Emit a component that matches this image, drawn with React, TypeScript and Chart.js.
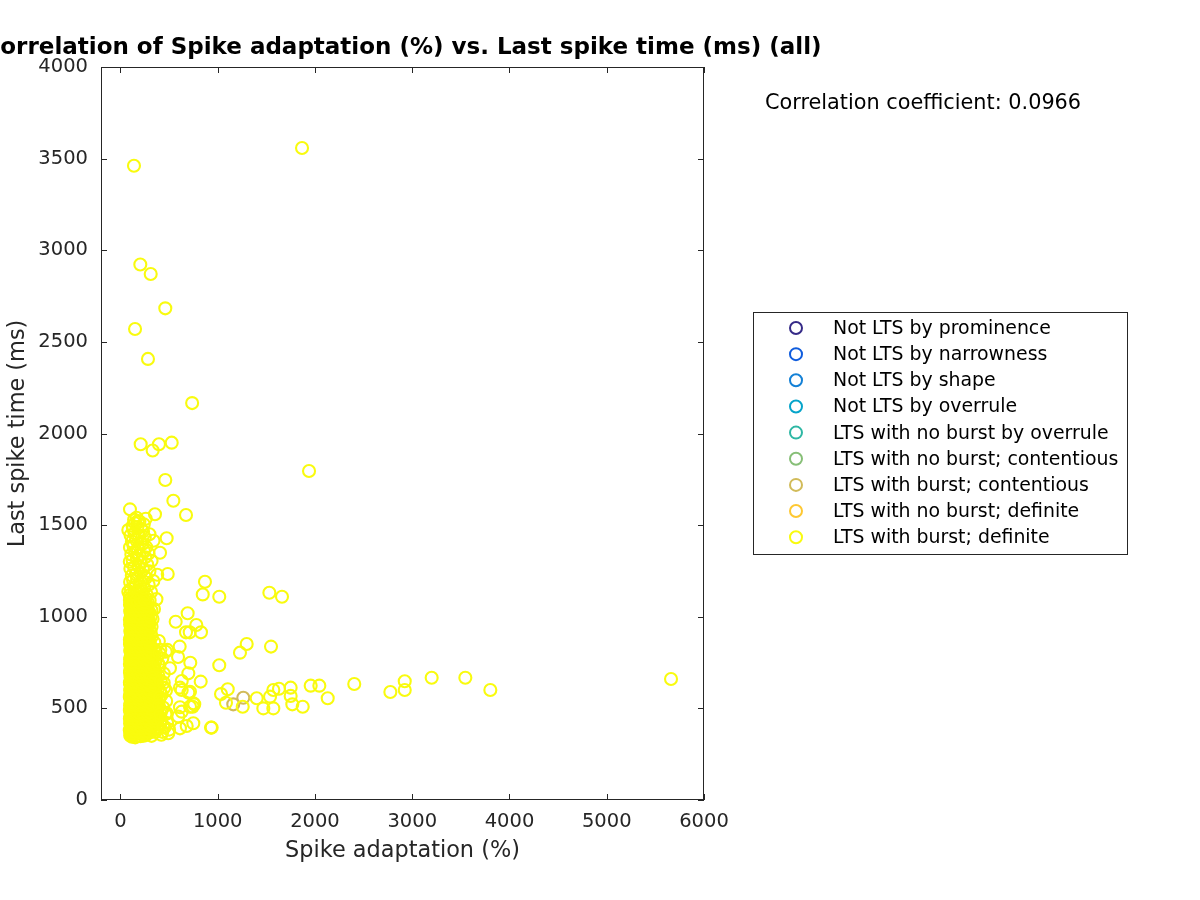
import React, { useEffect, useRef } from "react";
import { Chart, registerables } from "chart.js";

Chart.register(...registerables);

// ---------- Data ----------
const titleText = "Correlation of Spike adaptation (%) vs. Last spike time (ms) (all)";
const xLabel = "Spike adaptation (%)";
const yLabel = "Last spike time (ms)";
const corrText = "Correlation coefficient: 0.0966";

const xTicks = [0, 1000, 2000, 3000, 4000, 5000, 6000];
const yTicks = [0, 500, 1000, 1500, 2000, 2500, 3000, 3500, 4000];
const xMin = -200;
const xMax = 6000;
const yMin = 0;
const yMax = 4000;

const groupLabels = [
  "Not LTS by prominence",
  "Not LTS by narrowness",
  "Not LTS by shape",
  "Not LTS by overrule",
  "LTS with no burst by overrule",
  "LTS with no burst; contentious",
  "LTS with burst; contentious",
  "LTS with no burst; definite",
  "LTS with burst; definite",
];

const groupColors = [
  "#352a87",
  "#0f5cdd",
  "#1481d6",
  "#06a4ca",
  "#2eb7a4",
  "#87bf77",
  "#d1bb59",
  "#fec832",
  "#f9fb0e",
];

type Pt = [number, number];

const notLtsByProminence: Pt[] = [];
const notLtsByNarrowness: Pt[] = [];
const notLtsByShape: Pt[] = [];
const notLtsByOverrule: Pt[] = [];
const ltsNoBurstByOverrule: Pt[] = [];
const ltsNoBurstContentious: Pt[] = [];
const ltsBurstContentious: Pt[] = [[1160, 522], [1263, 558]];
const ltsNoBurstDefinite: Pt[] = [];

const ltsBurstDefiniteCore: Pt[] = [
  [118,345],[152,342],[205,348],[240,351],
  [105,363],[138,360],[176,366],[221,358],[268,362],[305,369],
  [96,381],[129,377],[163,384],[199,379],[236,386],[282,378],[340,383],
  [110,398],[147,402],[185,395],[218,401],[259,397],[297,404],[372,396],
  [99,418],[134,413],[171,420],[207,414],[245,419],[286,412],[326,421],[410,415],
  [115,436],[152,430],[190,438],[228,433],[266,437],[312,431],[355,439],
  [101,454],[140,449],[178,455],[214,451],[252,456],[293,448],[338,453],[395,457],
  [108,471],[123,466],[161,473],[197,468],[236,474],[275,467],[318,472],[362,469],
  [97,490],[136,485],[172,491],[209,486],[248,492],[289,484],[331,489],[420,487],
  [113,507],[149,503],[186,509],[224,504],[262,510],[305,502],[348,508],
  [102,526],[131,521],[167,527],[203,522],[241,528],[280,520],[322,525],[386,523],
  [110,543],[145,539],[182,545],[219,540],[257,546],[298,538],[341,544],
  [96,562],[127,557],[163,563],[200,558],[236,564],[276,556],[316,561],[372,559],
  [116,580],[151,575],[188,581],[226,576],[264,582],[303,574],[350,579],
  [100,598],[135,593],[171,599],[208,594],[246,600],[285,592],[329,597],[408,595],
  [112,615],[147,611],[184,617],[221,612],[259,618],[299,610],
  [98,634],[130,629],[166,635],[203,630],[240,636],[279,628],[323,633],[376,631],
  [114,651],[150,647],[187,653],[225,648],[262,654],[303,646],
  [103,670],[138,665],[175,671],[211,666],[248,672],[288,664],[340,669],
  [118,687],[155,683],[192,689],[230,684],[268,690],[312,682],
  [99,706],[133,701],[169,707],[205,702],[243,708],[284,700],[364,705],
  [111,723],[146,719],[183,725],[219,720],[257,726],[300,718],
  [97,742],[128,737],[164,743],[201,738],[238,744],[276,736],[332,741],
  [115,759],[152,755],[189,761],[226,756],[265,762],[305,754],
  [104,778],[140,773],[177,779],[213,774],[250,780],[290,772],
  [120,795],[157,791],[194,797],[232,792],[271,798],[318,790],
  [100,814],[134,809],[171,815],[207,810],[245,816],[283,808],
  [112,831],[149,827],[186,833],[223,828],[261,834],[302,826],
  [98,850],[131,845],[167,851],[204,846],[241,852],[280,844],
  [117,867],[153,863],[190,869],[228,864],[266,870],
  [103,886],[139,881],[176,887],[212,882],[249,888],[296,880],
  [121,903],[158,899],[195,905],[233,900],[272,906],
  [101,922],[135,917],[172,923],[208,918],[246,924],[310,916],
  [113,939],[150,935],[187,941],[224,936],[262,942],
  [99,958],[132,953],[168,959],[205,954],[243,960],[285,952],
  [118,975],[154,971],[191,977],[229,972],[268,978],
  [104,994],[140,989],[177,995],[214,990],[252,996],[330,988],
  [122,1011],[159,1007],[196,1013],[234,1008],[275,1014],
  [100,1030],[136,1025],[173,1031],[209,1026],[248,1032],[296,1024],
  [114,1047],[151,1043],[188,1049],[226,1044],[264,1050],[345,1042],
  [98,1066],[131,1061],[167,1067],[204,1062],[242,1068],
  [119,1083],[156,1079],[193,1085],[231,1080],[282,1076],
  [105,1102],[142,1097],[179,1103],[216,1098],[258,1104],[370,1096],
];

const ltsBurstDefiniteCore2: Pt[] = [
  [100,352],[135,354],[188,350],[262,355],[320,350],
  [112,371],[150,373],[193,370],[250,372],[290,374],[358,371],
  [102,389],[143,391],[181,388],[219,390],[265,392],[310,388],[388,390],
  [121,407],[160,409],[198,406],[236,408],[278,410],[315,405],[352,409],
  [107,425],[144,427],[182,424],[220,426],[258,428],[298,423],[340,427],[378,425],
  [97,443],[131,445],[170,442],[209,444],[247,446],[286,441],[330,445],[372,443],
  [118,461],[156,463],[192,460],[230,462],[270,464],[306,459],[348,463],[386,461],
  [104,479],[146,481],[185,478],[222,480],[262,482],[302,477],[345,481],[380,479],
  [124,497],[160,499],[198,496],[236,498],[276,500],[314,495],[362,499],
  [99,515],[137,517],[176,514],[214,516],[252,518],[292,513],[334,517],[374,515],
  [120,533],[158,535],[196,532],[232,534],[270,536],[310,531],[356,535],
  [106,551],[142,553],[180,550],[218,552],[256,554],[296,549],[335,553],[392,551],
  [97,569],[134,571],[172,568],[210,570],[250,572],[290,567],[330,571],[368,569],
  [124,587],[162,589],[200,586],[238,588],[276,590],[318,585],[362,589],
  [104,605],[140,607],[178,604],[216,606],[254,608],[292,603],[336,607],[384,605],
  [121,623],[159,625],[196,622],[234,624],[272,626],[314,621],[352,625],
  [97,641],[136,643],[174,640],[212,642],[250,644],[290,639],[334,643],
  [124,659],[161,661],[198,658],[236,660],[276,662],[318,657],[362,661],
  [107,677],[145,679],[183,676],[221,678],[258,680],[298,675],[338,679],[390,677],
  [98,695],[136,697],[174,694],[212,696],[250,698],[292,693],[336,697],
  [122,713],[160,715],[197,712],[235,714],[274,716],[318,711],[348,713],
  [105,731],[142,733],[180,730],[218,732],[256,734],[296,729],[340,733],
  [124,749],[162,751],[198,748],[236,750],[276,752],[318,747],[356,751],
  [99,767],[136,769],[174,766],[212,768],[250,770],[292,765],[336,769],
  [112,785],[150,787],[186,784],[224,786],[262,788],[304,783],[350,787],
  [125,803],[162,805],[200,802],[238,804],[276,806],[320,801],
  [106,821],[142,823],[180,820],[218,822],[256,824],[296,819],[340,823],
  [124,839],[160,841],[198,838],[236,840],[274,842],[316,837],
  [108,857],[144,859],[182,856],[220,858],[258,860],[298,855],[348,859],
  [97,875],[134,877],[172,874],[210,876],[248,878],[290,873],
  [110,893],[148,895],[186,892],[224,894],[262,896],[322,891],
  [125,911],[162,913],[200,910],[238,912],[276,914],
  [106,929],[142,931],[180,928],[218,930],[256,932],[298,927],
  [123,947],[160,949],[198,946],[236,948],[276,950],[320,945],
  [108,965],[144,967],[182,964],[220,966],[258,968],[300,963],
  [97,983],[132,985],[170,982],[208,984],[246,986],[290,981],
  [112,1001],[150,1003],[188,1000],[226,1002],[264,1004],[310,999],
  [126,1019],[164,1021],[202,1018],[240,1020],[288,1022],
  [107,1037],[144,1039],[182,1036],[220,1038],[258,1040],[318,1035],
  [124,1055],[162,1057],[198,1054],[236,1056],[280,1058],
  [106,1073],[142,1075],[180,1072],[218,1074],[260,1076],
  [97,1091],[128,1093],[166,1090],[204,1092],[244,1094],[300,1089],
];

const ltsBurstDefiniteEdge: Pt[] = [
  [430,372],[455,398],[418,440],[462,468],[440,505],[470,540],
  [425,575],[450,612],[415,650],[445,690],[400,730],[430,772],
  [410,820],[395,868],[420,356],[480,420],[500,384],[468,598],
  [445,640],[405,560],[395,515],[412,470],[388,745],[402,800],
];

const ltsBurstDefiniteUpper: Pt[] = [
  [95,1118],[138,1125],[176,1131],[222,1140],[268,1122],[315,1135],
  [108,1152],[152,1160],[198,1168],[245,1157],[290,1175],
  [99,1190],[130,1198],[171,1205],[215,1186],[260,1212],[338,1195],
  [117,1225],[160,1232],[205,1240],[250,1220],[298,1248],[378,1229],
  [102,1262],[140,1270],[185,1278],[232,1258],[275,1285],
  [96,1300],[125,1310],[168,1318],[210,1296],[255,1325],[320,1305],
  [112,1340],[150,1350],[195,1335],[240,1362],[288,1345],[407,1349],
  [98,1378],[135,1385],[178,1372],[222,1395],[265,1380],
  [118,1410],[160,1420],[205,1405],[250,1432],[340,1415],[475,1428],
  [104,1445],[145,1455],[190,1440],[232,1465],[298,1450],
  [130,1480],[175,1490],[220,1475],[81,1473],[125,1495],
  [150,1510],[195,1520],[240,1505],[140,1530],[180,1522],[260,1535],[165,1540],
  [98,1586],[355,1559],[81,1137],[486,1233],
];

const ltsBurstDefiniteSpread: Pt[] = [
  [139,3461],[1867,3558],[204,2922],[311,2870],[150,2570],[461,2683],
  [283,2407],[737,2166],[208,1941],[331,1907],[396,1941],[527,1950],
  [461,1746],[1939,1795],[544,1633],[674,1555],
  [869,1191],[846,1122],[1016,1109],[1531,1131],[1661,1109],
  [691,1019],[568,973],[780,955],[674,915],[712,915],[828,915],
  [1298,851],[1229,804],[1548,837],[465,809],[609,837],[592,780],
  [718,749],[1016,735],[698,691],[825,646],[630,649],[612,613],
  [698,586],[759,522],[743,509],[612,506],[1034,578],[1103,604],
  [1085,531],[1257,509],[1401,555],[1469,500],[1538,564],[1572,500],
  [1572,600],[1630,607],[1750,613],[1750,568],[1767,522],[1874,509],
  [1956,624],[2045,624],[2131,555],[2404,633],[2775,589],[2923,648],
  [2923,600],[3200,667],[3546,667],[3803,600],[5661,660],
  [931,395],[749,419],[681,404],[612,391],
  [482,819],[509,719],[630,600],[715,591],[749,528],[715,509],
  [630,482],[595,455],[938,395],[475,473],[441,400],[492,364],
];

const ltsBurstDefinite: Pt[] = [
  ...ltsBurstDefiniteCore,
  ...ltsBurstDefiniteCore2,
  ...ltsBurstDefiniteEdge,
  ...ltsBurstDefiniteUpper,
  ...ltsBurstDefiniteSpread,
];

const groupData: Pt[][] = [
  notLtsByProminence,
  notLtsByNarrowness,
  notLtsByShape,
  notLtsByOverrule,
  ltsNoBurstByOverrule,
  ltsNoBurstContentious,
  ltsBurstContentious,
  ltsNoBurstDefinite,
  ltsBurstDefinite,
];

// ---------- Style ----------
const FONT = "'DejaVu Sans', 'Liberation Sans', sans-serif";
const AXIS_COLOR = "#262626";

const decorPlugin = {
  id: "matlabDecor",
  afterDraw(chart: any) {
    const { ctx, chartArea } = chart;
    const { left, right, top, bottom } = chartArea;
    const xs = chart.scales.x;
    const ys = chart.scales.y;
    ctx.save();
    // axes box
    ctx.strokeStyle = AXIS_COLOR;
    ctx.lineWidth = 1;
    ctx.strokeRect(left + 0.5, top + 0.5, right - left - 1, bottom - top - 1);
    // inward ticks
    const tl = 6;
    ctx.beginPath();
    xTicks.forEach((v) => {
      const px = Math.round(xs.getPixelForValue(v)) + 0.5;
      ctx.moveTo(px, bottom);
      ctx.lineTo(px, bottom - tl);
      ctx.moveTo(px, top);
      ctx.lineTo(px, top + tl);
    });
    yTicks.forEach((v) => {
      const py = Math.round(ys.getPixelForValue(v)) + 0.5;
      ctx.moveTo(left, py);
      ctx.lineTo(left + tl, py);
      ctx.moveTo(right, py);
      ctx.lineTo(right - tl, py);
    });
    ctx.stroke();

    // title
    ctx.fillStyle = "#000000";
    ctx.font = `bold 23px ${FONT}`;
    ctx.textAlign = "center";
    ctx.textBaseline = "middle";
    ctx.fillText(titleText, (left + right) / 2, 48);

    // correlation text
    ctx.font = `20.8px ${FONT}`;
    ctx.textAlign = "left";
    ctx.fillText(corrText, 765, 104);

    // legend
    const bx = 753.5, by = 312.5, bw = 374, bh = 242;
    ctx.fillStyle = "#ffffff";
    ctx.fillRect(bx, by, bw, bh);
    ctx.strokeStyle = AXIS_COLOR;
    ctx.lineWidth = 1;
    ctx.strokeRect(bx, by, bw, bh);
    ctx.font = `18.9px ${FONT}`;
    groupLabels.forEach((lab, i) => {
      const cy = 328 + i * 26.15;
      ctx.beginPath();
      ctx.arc(796, cy, 6, 0, Math.PI * 2);
      ctx.strokeStyle = groupColors[i];
      ctx.lineWidth = 2;
      ctx.stroke();
      ctx.fillStyle = "#000000";
      ctx.textAlign = "left";
      ctx.textBaseline = "middle";
      ctx.fillText(lab, 833, cy + 1);
    });
    ctx.restore();
  },
};

export default function App() {
  const canvasRef = useRef<HTMLCanvasElement | null>(null);

  useEffect(() => {
    document.body.style.margin = "0";
    const canvas = canvasRef.current;
    if (!canvas) return;
    const datasets = groupData.map((pts, i) => ({
      label: groupLabels[i],
      data: pts.map(([x, y]) => ({ x, y })),
      borderColor: groupColors[i],
      backgroundColor: "rgba(0,0,0,0)",
      pointBorderColor: groupColors[i],
      pointBackgroundColor: "rgba(0,0,0,0)",
      pointRadius: 6,
      pointBorderWidth: 2.1,
      pointHoverRadius: 6,
      showLine: false,
      order: groupData.length - 1 - i,
    }));

    const chart = new Chart(canvas, {
      type: "scatter",
      data: { datasets },
      options: {
        animation: false,
        responsive: false,
        maintainAspectRatio: false,
        devicePixelRatio: 1,
        events: [],
        layout: { padding: { left: 0, right: 496, top: 67, bottom: 0 } },
        plugins: {
          legend: { display: false },
          title: { display: false },
          tooltip: { enabled: false },
        },
        scales: {
          x: {
            type: "linear",
            min: xMin,
            max: xMax,
            grid: { display: false, drawTicks: false },
            border: { display: false },
            afterBuildTicks: (s: any) => {
              s.ticks = xTicks.map((v) => ({ value: v }));
            },
            afterFit: (s: any) => {
              s.height = 100;
            },
            ticks: {
              padding: 10,
              color: AXIS_COLOR,
              font: { family: FONT, size: 19.5 },
              maxRotation: 0,
              autoSkip: false,
              callback: (v: any) => String(v),
            },
            title: {
              display: true,
              text: xLabel,
              color: AXIS_COLOR,
              font: { family: FONT, size: 22.4 },
              padding: { top: 0, bottom: 35.6 },
            },
          },
          y: {
            type: "linear",
            min: yMin,
            max: yMax,
            grid: { display: false, drawTicks: false },
            border: { display: false },
            afterBuildTicks: (s: any) => {
              s.ticks = yTicks.map((v) => ({ value: v }));
            },
            afterFit: (s: any) => {
              s.width = 101;
            },
            ticks: {
              padding: 13,
              color: AXIS_COLOR,
              font: { family: FONT, size: 19.5 },
              autoSkip: false,
              callback: (v: any) => String(v),
            },
            title: {
              display: true,
              text: yLabel,
              color: AXIS_COLOR,
              font: { family: FONT, size: 22.4 },
              padding: { top: 5, bottom: 0 },
            },
          },
        },
      },
      plugins: [decorPlugin],
    });
    return () => chart.destroy();
  }, []);

  return (
    <div style={{ position: "absolute", left: 0, top: 0, width: 1200, height: 900, background: "#ffffff" }}>
      <canvas ref={canvasRef} width={1200} height={900} style={{ width: 1200, height: 900, display: "block" }} />
    </div>
  );
}
